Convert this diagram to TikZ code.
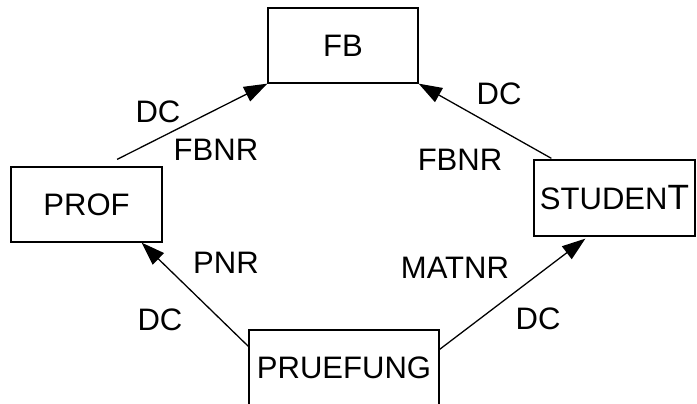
\documentclass[tikz,border=0pt]{standalone}
\usepackage{fontspec}
\setmainfont{Liberation Sans}
\usetikzlibrary{arrows.meta, positioning}

\begin{document}
\begin{tikzpicture}[
        tbl/.style = {draw, line width=1.1pt, font=\fontsize{26.5}{30}\selectfont, minimum height=2.25cm, inner sep=0pt},
        ar/.style  = {-{Triangle[length=7mm, width=4.8mm]}, line width=1.1pt},
        lbl/.style = {font=\fontsize{26.5}{30}\selectfont, inner sep=0pt, text height=18.9pt, text depth=0pt}
    ]
        \useasboundingbox (0,0) rectangle (20.91,12.09);

        \node[tbl, minimum width=4.5cm]  (FB)       at (10.29,10.725) {FB};
        \node[tbl, minimum width=4.53cm] (PROF)     at (2.595,5.955)  {PROF};
        \node[tbl, minimum width=4.83cm, minimum height=2.28cm] (STUDENT) at (18.435,6.15)
            {STUDEN{\fontsize{30}{30}\selectfont T}};
        \node[tbl, minimum width=5.7cm]  (PRUEFUNG) at (10.32,1.065)  {PRUEFUNG};

        % arrow ends
        \coordinate (profout) at ([xshift=9.2mm, yshift=2.1mm]PROF.north);
        \coordinate (studout) at ([xshift=5.4mm, yshift=0.3mm]STUDENT.north west);
        \coordinate (profin)  at ([xshift=-6.3mm]PROF.south east);
        \coordinate (studin)  at ([xshift=15.6mm, yshift=-0.6mm]STUDENT.south west);

        \draw[ar] (profout) -- (FB.south west);
        \draw[ar] (studout) -- (FB.south east);
        \draw[ar] ([yshift=-5.1mm]PRUEFUNG.north west) -- (profin);
        \draw[ar] ([yshift=-6mm]PRUEFUNG.north east) -- (studin);

        \node[lbl] (dcA)   at (4.74,8.76)  {DC};
        \node[lbl] (fbnrA) at (6.48,7.62)  {FBNR};
        \node[lbl] (dcB)   at (14.97,9.30) {DC};
        \node[lbl] (fbnrB) at (13.8,7.32)  {FBNR};
        \node[lbl] (pnr)   at (6.78,4.23)  {PNR};
        \node[lbl] (dcC)   at (4.8,2.52)   {DC};
        \node[lbl] (matnr) at (13.65,4.08) {MATNR};
        \node[lbl] (dcD)   at (16.14,2.55) {DC};
    \end{tikzpicture}
\end{document}
